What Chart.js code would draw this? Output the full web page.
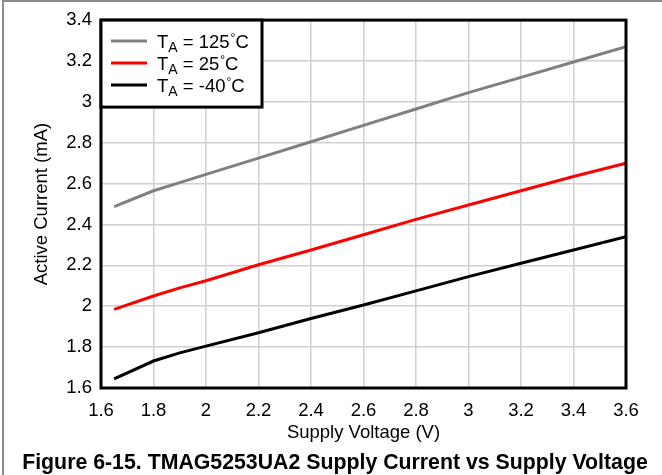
<!DOCTYPE html>
<html>
<head>
<meta charset="utf-8">
<script src="https://cdn.jsdelivr.net/npm/chart.js@4.4.0/dist/chart.umd.min.js"></script>
<style>
  body { margin: 0; background: #fff; }
  canvas { display: block; }
</style>
</head>
<body>
<canvas id="chart" width="662" height="475"></canvas>
<script>
// supply voltage (V)
var voltages = [1.65, 1.8, 1.9, 2.0, 2.2, 2.4, 2.6, 2.8, 3.0, 3.2, 3.4, 3.6];
// active current (mA)
var current125 = [2.487, 2.565, 2.605, 2.645, 2.725, 2.805, 2.885, 2.965, 3.045, 3.12, 3.195, 3.27];
var current25 = [1.985, 2.05, 2.09, 2.125, 2.203, 2.275, 2.35, 2.425, 2.495, 2.565, 2.635, 2.70];
var currentMinus40 = [1.645, 1.732, 1.772, 1.805, 1.87, 1.94, 2.006, 2.075, 2.145, 2.21, 2.275, 2.34];
var seriesTemps = ['125', '25', '-40'];

var xTicks = [1.6, 1.8, 2, 2.2, 2.4, 2.6, 2.8, 3, 3.2, 3.4, 3.6];
var yTicks = [1.6, 1.8, 2, 2.2, 2.4, 2.6, 2.8, 3, 3.2, 3.4];

var FONT = "'Liberation Sans', Arial, sans-serif";

function toPoints(ys) {
    return voltages.map(function (v, i) { return { x: v, y: ys[i] }; });
}

function fmt(v) {
    return String(Math.round(v * 10) / 10);
}

// frame, plot border, legend with subscripts, caption
var decorPlugin = {
    id: 'decor',
    afterDraw: function (chart) {
        var ctx = chart.ctx;
        var a = chart.chartArea;
        ctx.save();

        // outer grey frame (top and left)
        ctx.strokeStyle = '#8a8a8a';
        ctx.lineWidth = 2;
        ctx.beginPath();
        ctx.moveTo(3, 475);
        ctx.lineTo(3, 1);
        ctx.lineTo(662, 1);
        ctx.stroke();

        // plot border
        ctx.strokeStyle = '#000';
        ctx.lineWidth = 3;
        ctx.strokeRect(a.left, a.top, a.right - a.left, a.bottom - a.top);

        // legend box
        var lx = a.left, ly = a.top, lw = 161, lh = 87;
        ctx.fillStyle = '#fff';
        ctx.fillRect(lx, ly, lw, lh);
        ctx.strokeRect(lx, ly, lw, lh);

        chart.data.datasets.forEach(function (ds, i) {
            var y = ly + 21 + i * 22;
            ctx.strokeStyle = ds.borderColor;
            ctx.lineWidth = 3;
            ctx.beginPath();
            ctx.moveTo(lx + 10, y);
            ctx.lineTo(lx + 46, y);
            ctx.stroke();

            ctx.fillStyle = '#000';
            ctx.textBaseline = 'alphabetic';
            ctx.textAlign = 'left';
            var tx = lx + 56;
            var base = y + 7;
            ctx.font = '18.5px ' + FONT;
            ctx.fillText('T', tx, base);
            tx += ctx.measureText('T').width;
            ctx.font = '14px ' + FONT;
            ctx.fillText('A', tx, base + 4);
            tx += ctx.measureText('A').width;
            ctx.font = '18.5px ' + FONT;
            var t = ' = ' + seriesTemps[i];
            ctx.fillText(t, tx, base);
            tx += ctx.measureText(t).width;
            ctx.font = '12px ' + FONT;
            ctx.fillText('\u00b0', tx + 1, base - 6);
            tx += ctx.measureText('\u00b0').width + 1;
            ctx.font = '18.5px ' + FONT;
            ctx.fillText('C', tx, base);
        });

        // caption
        ctx.fillStyle = '#000';
        ctx.font = 'bold 21.3px ' + FONT;
        ctx.textAlign = 'center';
        ctx.textBaseline = 'middle';
        ctx.fillText('Figure 6-15. TMAG5253UA2 Supply Current vs Supply Voltage', 335, 463);

        ctx.restore();
    }
};

var ctx = document.getElementById('chart').getContext('2d');
var chart = new Chart(ctx, {
    type: 'line',
    data: {
        datasets: [{
            label: 'TA = 125°C',
            data: toPoints(current125),
            borderColor: '#808080',
            borderWidth: 3
        }, {
            label: 'TA = 25°C',
            data: toPoints(current25),
            borderColor: '#ff0000',
            borderWidth: 3
        }, {
            label: 'TA = -40°C',
            data: toPoints(currentMinus40),
            borderColor: '#000000',
            borderWidth: 3
        }]
    },
    options: {
        responsive: false,
        animation: false,
        devicePixelRatio: 1,
        elements: {
            point: { radius: 0 },
            line: { tension: 0, borderCapStyle: 'butt' }
        },
        layout: {
            padding: { left: 0, top: 20, right: 36, bottom: 0 }
        },
        plugins: {
            legend: { display: false },
            tooltip: { enabled: false }
        },
        scales: {
            x: {
                type: 'linear',
                min: 1.6,
                max: 3.6,
                afterFit: function (scale) { scale.height = 87; },
                afterBuildTicks: function (scale) {
                    scale.ticks = xTicks.map(function (v) { return { value: v }; });
                },
                grid: { color: '#d0d0d0', lineWidth: 1.5, drawTicks: false },
                border: { display: false },
                ticks: {
                    color: '#000',
                    padding: 12,
                    maxRotation: 0,
                    font: { family: FONT, size: 18.5 },
                    callback: function (v) { return fmt(v); }
                },
                title: {
                    display: true,
                    text: 'Supply Voltage (V)',
                    color: '#000',
                    font: { family: FONT, size: 18.5 },
                    padding: { top: 0, bottom: 31 }
                }
            },
            y: {
                type: 'linear',
                min: 1.6,
                max: 3.4,
                afterFit: function (scale) { scale.width = 101; },
                afterBuildTicks: function (scale) {
                    scale.ticks = yTicks.map(function (v) { return { value: v }; });
                },
                grid: { color: '#d0d0d0', lineWidth: 1.5, drawTicks: false },
                border: { display: false },
                ticks: {
                    color: '#000',
                    padding: 9,
                    font: { family: FONT, size: 18.5 },
                    callback: function (v) { return fmt(v); }
                },
                title: {
                    display: true,
                    text: 'Active Current (mA)',
                    color: '#000',
                    font: { family: FONT, size: 18.5 },
                    padding: { top: 31, bottom: 0 }
                }
            }
        }
    },
    plugins: [decorPlugin]
});
</script>
</body>
</html>
